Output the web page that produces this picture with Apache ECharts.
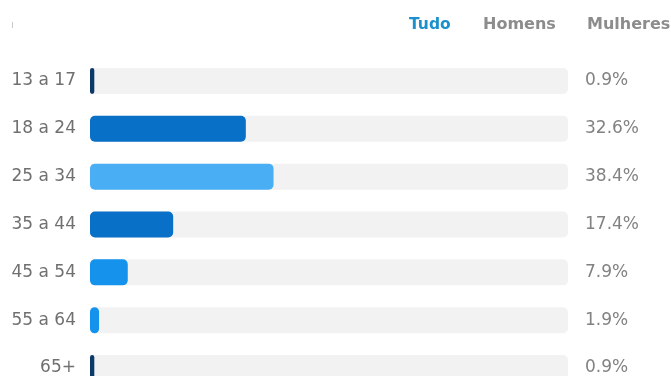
<!DOCTYPE html>
<html>
<head>
<meta charset="utf-8">
<style>
  html, body { margin: 0; padding: 0; background: #ffffff; }
  #chart { width: 671px; height: 376px; }
</style>
<script src="https://cdn.jsdelivr.net/npm/echarts@6/dist/echarts.min.js"></script>
</head>
<body>
<div id="chart"></div>
<script>
// Age groups and their share of the audience (%)
const ageGroups = ['13 a 17', '18 a 24', '25 a 34', '35 a 44', '45 a 54', '55 a 64', '65+'];
const shares = [0.9, 32.6, 38.4, 17.4, 7.9, 1.9, 0.9];
const tabs = ['Tudo', 'Homens', 'Mulheres'];

// Bar colours per age group
const barColors = ['#0b3a68', '#0870c6', '#4aaef5', '#0870c6', '#1593ec', '#1593ec', '#0b3a68'];

const FONT = '"DejaVu Sans", "Noto Sans", sans-serif';

const chart = echarts.init(document.getElementById('chart'), null, { renderer: 'canvas' });

chart.setOption({
  backgroundColor: '#ffffff',
  animation: false,
  graphic: [
    { type: 'rect', left: 12, top: 22, shape: { width: 1, height: 6 }, style: { fill: '#c8c8c8' } },
    { type: 'text', left: 409, top: 17, style: { text: tabs[0], font: 'bold 15.5px ' + FONT, fill: '#1b90cc' } },
    { type: 'text', left: 483, top: 17, style: { text: tabs[1], font: 'bold 16px ' + FONT, fill: '#8c8c8c' } },
    { type: 'text', left: 587, top: 17, style: { text: tabs[2], font: 'bold 16px ' + FONT, fill: '#8c8c8c' } }
  ],
  // the last row runs past the bottom edge of the canvas
  grid: { left: 90, right: 103, top: 57, height: 335, containLabel: false, outerBoundsMode: 'none' },
  xAxis: {
    type: 'value', min: 0, max: 100, show: false
  },
  yAxis: [
    {
      type: 'category',
      data: ageGroups,
      inverse: true,
      axisLine: { show: false },
      axisTick: { show: false },
      axisLabel: { margin: 14, color: '#707070', fontSize: 17, fontFamily: FONT }
    },
    {
      type: 'category',
      position: 'right',
      data: shares.map(v => v.toFixed(1) + '%'),
      inverse: true,
      axisLine: { show: false },
      axisTick: { show: false },
      axisLabel: { margin: 17, color: '#828282', fontSize: 17, fontFamily: FONT, align: 'left' }
    }
  ],
  series: [{
    type: 'bar',
    yAxisIndex: 0,
    barWidth: 26,
    data: shares.map((v, i) => ({ value: v, itemStyle: { color: barColors[i] } })),
    itemStyle: { borderRadius: 5 },
    showBackground: true,
    backgroundStyle: { color: '#f2f2f2', borderRadius: 5 }
  }]
});
</script>
</body>
</html>
